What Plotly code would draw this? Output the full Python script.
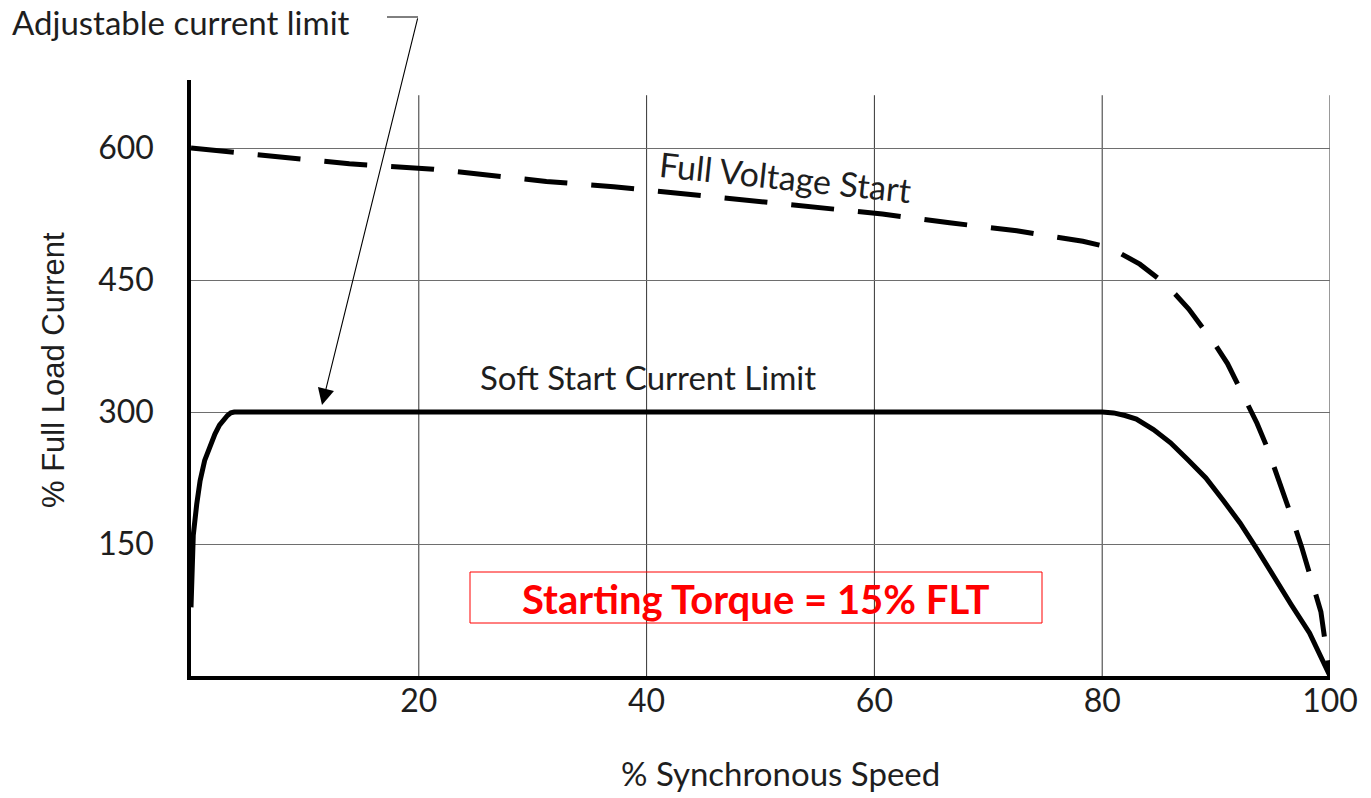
import plotly.graph_objects as go

# ---- data ----
fv_speed = [0, 7.8, 13.9, 21.3, 31.2, 37.1, 43.0, 48.9, 54.8, 60.7, 66.6, 72.5, 78.3, 80.0,
            81.5, 83.3, 85.1, 86.4, 87.6, 89.0, 90.0, 91.0, 92.1, 93.6, 94.5, 95.7, 96.6,
            97.5, 98.4, 99.2, 100]
fv_current = [600, 590, 582, 576, 562, 556, 548, 540, 533, 525, 515, 506, 494, 489,
              481, 468, 450, 434, 417, 393, 375, 355, 325, 287, 259, 217, 182,
              147, 110, 73, 0]

ss_speed = [0, 0.05, 0.1, 0.2, 0.5, 0.8, 1.2, 1.7, 2.1, 2.5, 2.9, 3.2, 3.5, 3.8, 80.0,
            81.0, 82.0, 83.0, 84.5, 86.0, 87.5, 89.1, 90.6, 92.1, 93.6, 95.1, 96.6,
            98.2, 99.1, 100]
ss_current = [78, 120, 147, 160, 195, 222, 245, 262, 275, 285, 292, 296, 299, 300, 300,
              299, 296, 292, 280, 265, 246, 225, 200, 174, 144, 112, 81,
              49, 25, 0]

x_ticks = [20, 40, 60, 80, 100]
x_ticklabels = ["20", "40", "60", "80", "100"]
y_ticks = [150, 300, 450, 600]
y_ticklabels = ["150", "300", "450", "600"]

FONT = "Lato"
TXT = "#1e1e1e"

# plot area at x 191..1330, y 80..676 of the window (body margin removed below)
L, R, T, B = 191, 41, 80, 122
W, H = 1371, 798
PW, PH = W - L - R, H - T - B   # 1139 x 596


def px(xw):
    return (xw - 191) / PW


def py(yw):
    return (676 - yw) / PH


fig = go.Figure()
fig.add_trace(go.Scatter(
    x=fv_speed, y=fv_current, mode="lines",
    line=dict(color="black", width=5, dash="43px,24px"),
    hoverinfo="skip", showlegend=False))
fig.add_trace(go.Scatter(
    x=ss_speed, y=ss_current, mode="lines",
    line=dict(color="black", width=5),
    hoverinfo="skip", showlegend=False))

shapes = []
for xv in x_ticks:
    shapes.append(dict(type="line", xref="x", yref="y", x0=xv, x1=xv, y0=0, y1=660,
                       line=dict(color="#333333", width=1), layer="below"))
# leader line of the "Adjustable current limit" label
shapes.append(dict(type="line", xref="paper", yref="paper",
                   x0=px(387), x1=px(418), y0=py(17), y1=py(17),
                   line=dict(color="black", width=1)))
# red frame around the starting-torque note
shapes.append(dict(type="rect", xref="paper", yref="paper",
                   x0=px(470), x1=px(1042), y0=py(623), y1=py(572),
                   line=dict(color="#ff0000", width=1), fillcolor="rgba(0,0,0,0)"))

annotations = [
    dict(x=11.5, y=308, xref="x", yref="y", ax=96, ay=-388, text="",
         showarrow=True, arrowhead=2, arrowsize=3, arrowwidth=1.1, arrowcolor="black"),
    dict(x=px(10), y=py(22), xref="paper", yref="paper", xanchor="left", yanchor="middle",
         text="Adjustable current limit", showarrow=False,
         font=dict(family=FONT, size=33, color=TXT)),
    dict(x=px(648), y=py(377), xref="paper", yref="paper", yanchor="middle",
         text="Soft Start Current Limit", showarrow=False,
         font=dict(family=FONT, size=33, color=TXT)),
    dict(x=px(785), y=py(176), xref="paper", yref="paper", xanchor="center", yanchor="middle",
         text="Full Voltage Start", showarrow=False,
         textangle=6, font=dict(family=FONT, size=34, color=TXT)),
    dict(x=px(756), y=py(599), xref="paper", yref="paper", yanchor="middle",
         text="<b>Starting Torque = 15% FLT</b>", showarrow=False,
         font=dict(family=FONT, size=40, color="#ff0000")),
    dict(x=px(780), y=py(773), xref="paper", yref="paper",
         text="% Synchronous Speed", showarrow=False, yanchor="middle",
         font=dict(family=FONT, size=33, color=TXT)),
    dict(x=px(53), y=py(370), xref="paper", yref="paper",
         text="% Full Load Current", showarrow=False, textangle=-90,
         xanchor="center", yanchor="middle",
         font=dict(family="Liberation Sans", size=31, color=TXT)),
]

fig.update_layout(
    width=W, height=H,
    margin=dict(l=L, r=R, t=T, b=B),
    paper_bgcolor="white", plot_bgcolor="white",
    shapes=shapes, annotations=annotations,
    xaxis=dict(range=[0, 100], tickvals=x_ticks, ticktext=x_ticklabels,
               showgrid=False, zeroline=False, showline=True, linecolor="black", linewidth=3.5,
               ticks="", ticklabelstandoff=-6,
               tickfont=dict(family=FONT, size=32, color=TXT), fixedrange=True),
    yaxis=dict(range=[0, 677.3], tickvals=y_ticks, ticktext=y_ticklabels,
               showgrid=True, gridcolor="#6e6e6e", gridwidth=1, zeroline=False,
               showline=True, linecolor="black", linewidth=3.5,
               ticks="", ticklabelstandoff=27,
               tickfont=dict(family=FONT, size=32, color=TXT), fixedrange=True),
)

fig.write_html("out.html", config={"displayModeBar": False},
               post_script="document.body.style.margin='0px';"
                           "document.body.style.overflow='hidden';")
